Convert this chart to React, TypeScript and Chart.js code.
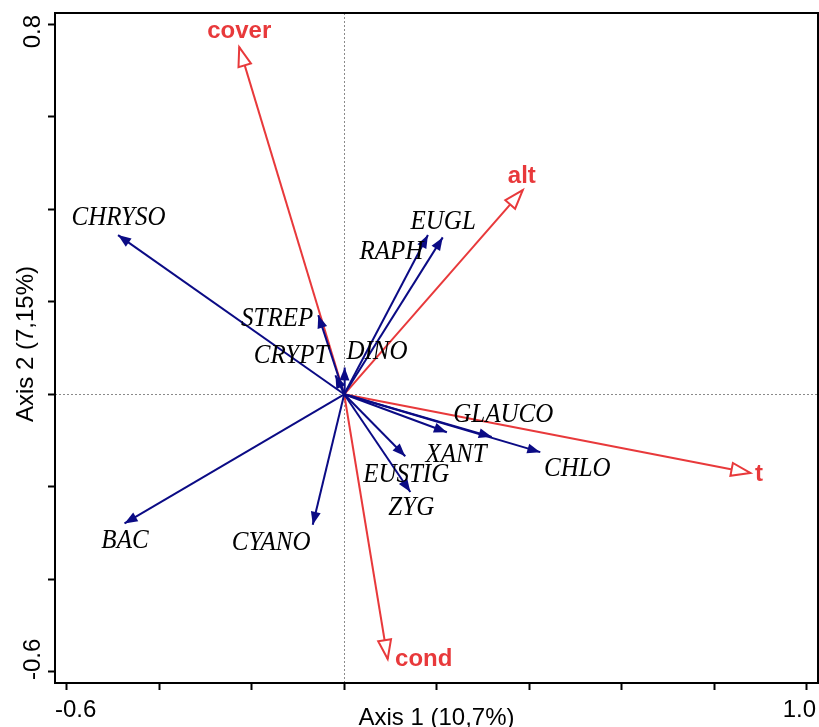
import React, { useEffect, useRef } from 'react';
import { Chart, registerables } from 'chart.js';

Chart.register(...registerables);

// Species scores (arrow tips) on the first two ordination axes
const speciesNames = ['CHRYSO', 'BAC', 'CYANO', 'STREP', 'CRYPT', 'DINO', 'RAPH', 'EUGL', 'GLAUCO', 'XANT', 'CHLO', 'EUSTIG', 'ZYG'];
const speciesAxis1 = [-0.489, -0.475, -0.068, -0.056, -0.019, 0.001, 0.181, 0.213, 0.319, 0.222, 0.424, 0.132, 0.143];
const speciesAxis2 = [0.344, -0.279, -0.282, 0.171, 0.041, 0.058, 0.344, 0.339, -0.092, -0.082, -0.125, -0.134, -0.211];
// Where each species name sits (axis units)
const speciesLabelAxis1 = [-0.488, -0.474, -0.158, -0.145, -0.115, 0.071, 0.102, 0.214, 0.344, 0.242, 0.504, 0.134, 0.145];
const speciesLabelAxis2 = [0.382, -0.316, -0.320, 0.164, 0.084, 0.091, 0.307, 0.372, -0.045, -0.130, -0.162, -0.173, -0.246];

// Environmental variables
const envNames = ['cover', 'alt', 't', 'cond'];
const envAxis1 = [-0.227, 0.386, 0.878, 0.094];
const envAxis2 = [0.750, 0.441, -0.170, -0.572];
const envLabelAxis1 = [-0.227, 0.384, 0.897, 0.172];
const envLabelAxis2 = [0.785, 0.471, -0.174, -0.573];

// Axes
const axis1Ticks = [-0.6, -0.4, -0.2, 0, 0.2, 0.4, 0.6, 0.8, 1.0];
const axis1TickLabels = ['-0.6', '', '', '', '', '', '', '', '1.0'];
const axis2Ticks = [-0.6, -0.4, -0.2, 0, 0.2, 0.4, 0.6, 0.8];
const axis2TickLabels = ['-0.6', '', '', '', '', '', '', '0.8'];
const axis1Title = 'Axis 1 (10,7%)';
const axis2Title = 'Axis 2 (7,15%)';

const NAVY = '#0b0b85';
const RED = '#e8393b';
const SANS = '"Liberation Sans", Arial, Helvetica, sans-serif';
const SERIF = '"Liberation Serif", "Times New Roman", serif';

function arrowHead(ctx: CanvasRenderingContext2D, fx: number, fy: number, tx: number, ty: number, len: number, half: number) {
  const dx = tx - fx;
  const dy = ty - fy;
  const d = Math.hypot(dx, dy) || 1;
  const ux = dx / d;
  const uy = dy / d;
  const bx = tx - ux * len;
  const by = ty - uy * len;
  ctx.beginPath();
  ctx.moveTo(tx, ty);
  ctx.lineTo(bx - uy * half, by + ux * half);
  ctx.lineTo(bx + uy * half, by - ux * half);
  ctx.closePath();
}

const biplotPlugin = {
  id: 'biplot',
  beforeDatasetsDraw(chart: any) {
    const { ctx, chartArea: a, scales } = chart;
    const x0 = Math.round(scales.x.getPixelForValue(0)) + 0.5;
    const y0 = Math.round(scales.y.getPixelForValue(0)) + 0.5;
    ctx.save();
    ctx.strokeStyle = '#8a8a8a';
    ctx.lineWidth = 1;
    ctx.setLineDash([2, 2]);
    ctx.beginPath();
    ctx.moveTo(x0, a.top);
    ctx.lineTo(x0, a.bottom);
    ctx.moveTo(a.left, y0);
    ctx.lineTo(a.right, y0);
    ctx.stroke();
    ctx.restore();
  },
  afterDatasetsDraw(chart: any) {
    const { ctx, scales } = chart;
    const sx = scales.x;
    const sy = scales.y;
    const ox = sx.getPixelForValue(0);
    const oy = sy.getPixelForValue(0);
    ctx.save();

    // filled heads for species
    ctx.fillStyle = NAVY;
    speciesNames.forEach((_, i) => {
      arrowHead(ctx, ox, oy, sx.getPixelForValue(speciesAxis1[i]), sy.getPixelForValue(speciesAxis2[i]), 13, 5);
      ctx.fill();
    });

    // open heads for environmental variables
    ctx.lineWidth = 2;
    ctx.lineJoin = 'miter';
    ctx.strokeStyle = RED;
    ctx.fillStyle = '#ffffff';
    envNames.forEach((_, i) => {
      arrowHead(ctx, ox, oy, sx.getPixelForValue(envAxis1[i]), sy.getPixelForValue(envAxis2[i]), 19, 6.5);
      ctx.fill();
      ctx.stroke();
    });

    // species names: italic serif, slightly tall
    ctx.textAlign = 'center';
    ctx.textBaseline = 'middle';
    ctx.fillStyle = '#000';
    ctx.font = `italic 25px ${SERIF}`;
    speciesNames.forEach((n, i) => {
      ctx.save();
      ctx.translate(sx.getPixelForValue(speciesLabelAxis1[i]), sy.getPixelForValue(speciesLabelAxis2[i]));
      ctx.scale(1, 1.1);
      ctx.fillText(n, 0, 0);
      ctx.restore();
    });

    ctx.fillStyle = RED;
    ctx.font = `bold 24px ${SANS}`;
    envNames.forEach((n, i) => {
      ctx.fillText(n, sx.getPixelForValue(envLabelAxis1[i]), sy.getPixelForValue(envLabelAxis2[i]));
    });
    ctx.restore();
  },
  afterDraw(chart: any) {
    const { ctx, chartArea: a } = chart;
    ctx.save();
    ctx.strokeStyle = '#000';
    ctx.lineWidth = 2;
    ctx.strokeRect(a.left, a.top, a.right - a.left, a.bottom - a.top);

    ctx.fillStyle = '#000';
    ctx.font = `24px ${SANS}`;
    ctx.textBaseline = 'alphabetic';
    // horizontal axis labels: outer ones flush with the frame
    const lastX = axis1TickLabels.length - 1;
    ctx.textAlign = 'left';
    ctx.fillText(axis1TickLabels[0], a.left, a.bottom + 34);
    ctx.textAlign = 'right';
    ctx.fillText(axis1TickLabels[lastX], a.right - 2, a.bottom + 34);

    // vertical axis labels, rotated
    const lastY = axis2TickLabels.length - 1;
    ctx.save();
    ctx.translate(a.left - 15, a.bottom - 3);
    ctx.rotate(-Math.PI / 2);
    ctx.textAlign = 'left';
    ctx.fillText(axis2TickLabels[0], 0, 0);
    ctx.restore();
    ctx.save();
    ctx.translate(a.left - 15, a.top + 2);
    ctx.rotate(-Math.PI / 2);
    ctx.textAlign = 'right';
    ctx.fillText(axis2TickLabels[lastY], 0, 0);
    ctx.restore();

    // axis titles
    ctx.font = `24px ${SANS}`;
    ctx.textAlign = 'center';
    ctx.fillText(axis1Title, (a.left + a.right) / 2, a.bottom + 42);
    ctx.save();
    ctx.translate(a.left - 22, (a.top + a.bottom) / 2 - 4);
    ctx.rotate(-Math.PI / 2);
    ctx.fillText(axis2Title, 0, 0);
    ctx.restore();
    ctx.restore();
  },
};

export default function App() {
  const canvasRef = useRef<HTMLCanvasElement | null>(null);

  useEffect(() => {
    if (!canvasRef.current) return;
    const envSets = envNames.map((n, i) => ({
      label: n,
      data: [{ x: 0, y: 0 }, { x: envAxis1[i], y: envAxis2[i] }],
      borderColor: RED,
      borderWidth: 2,
      pointRadius: 0,
      showLine: true,
      order: 2,
    }));
    const speciesSets = speciesNames.map((n, i) => ({
      label: n,
      data: [{ x: 0, y: 0 }, { x: speciesAxis1[i], y: speciesAxis2[i] }],
      borderColor: NAVY,
      borderWidth: 2,
      pointRadius: 0,
      showLine: true,
      order: 1,
    }));

    const tickScale = (ticks: number[], min: number, max: number) => ({
      type: 'linear' as const,
      min,
      max,
      afterBuildTicks: (scale: any) => {
        scale.ticks = ticks.map((v) => ({ value: v }));
      },
      ticks: { display: false },
      border: { display: false },
      grid: {
        display: true,
        drawOnChartArea: false,
        drawTicks: true,
        tickLength: 7,
        tickWidth: 2,
        tickColor: '#000',
        color: '#000',
      },
    });

    const chart = new Chart(canvasRef.current, {
      type: 'scatter',
      data: { datasets: [...envSets, ...speciesSets] as any },
      options: {
        responsive: false,
        animation: false,
        devicePixelRatio: 1,
        events: [],
        layout: { padding: { left: 48, top: 13, right: 1, bottom: 37 } },
        plugins: { legend: { display: false }, tooltip: { enabled: false } },
        scales: {
          x: tickScale(axis1Ticks, -0.6253, 1.0244),
          y: tickScale(axis2Ticks, -0.6238, 0.8238),
        } as any,
      },
      plugins: [biplotPlugin],
    });
    return () => chart.destroy();
  }, []);

  return (
    <div style={{ position: 'fixed', left: 0, top: 0, width: 819, height: 727, background: '#fff' }}>
      <canvas ref={canvasRef} width={819} height={727} style={{ display: 'block' }} />
    </div>
  );
}
